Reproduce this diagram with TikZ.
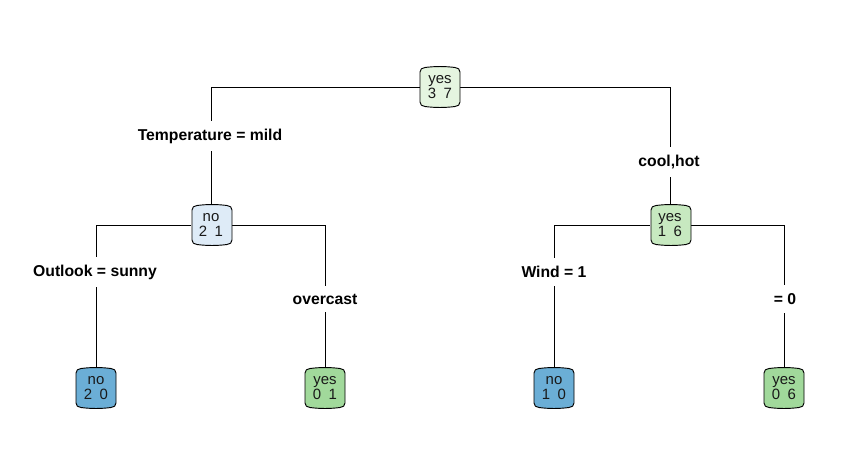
\documentclass[tikz,border=0pt]{standalone}
\usepackage{fontspec}
\setmainfont{Liberation Sans}
\usetikzlibrary{backgrounds}
\definecolor{cRoot}{HTML}{E5F5E0}
\definecolor{cNoA}{HTML}{DEEBF7}
\definecolor{cYesA}{HTML}{C7E9C0}
\definecolor{cNoLeaf}{HTML}{6BAED6}
\definecolor{cYesLeaf}{HTML}{A1D99B}
\newcommand\dgap{\hspace{0.5em}}
\tikzset{
  ntext/.style={align=center, inner sep=0pt, minimum width=30pt, minimum height=30pt,
    font=\fontsize{11.2}{10.8}\selectfont, text=black!90},
  nshape/.style={draw=black, line width=0.7pt},
  branch/.style={draw=black, line width=0.75pt},
  blabel/.style={fill=white, inner xsep=1pt, inner ysep=6pt, font=\fontsize{11.8}{13}\selectfont\bfseries}
}
\newcommand\treeshape[3]{%
  \draw[nshape, fill=#3, shift={(#1,#2)}]
    (-20,-15) -- (-20,15)
    .. controls (-20,18) and (-18,19) .. (-15,19.5)
    .. controls (-5,20.8) and (5,20.8) .. (15,19.5)
    .. controls (18,19) and (20,18) .. (20,15)
    -- (20,-15)
    .. controls (20,-18) and (18,-19) .. (15,-19.5)
    .. controls (5,-20.8) and (-5,-20.8) .. (-15,-19.5)
    .. controls (-18,-19) and (-20,-18) .. (-20,-15) -- cycle;%
}
\begin{document}
\begin{tikzpicture}[x=0.75pt, y=-0.75pt]
\useasboundingbox (0,0) rectangle (848,468);
% shapes
\treeshape{440}{87}{cRoot}
\treeshape{212}{225}{cNoA}
\treeshape{671}{225}{cYesA}
\treeshape{96}{388}{cNoLeaf}
\treeshape{325}{388}{cYesLeaf}
\treeshape{554}{388}{cNoLeaf}
\treeshape{784}{388}{cYesLeaf}
% nodes
\node[ntext] (root) at (440,87) {yes\\3\dgap 7};
\node[ntext] (nA) at (211,225) {no\\2\dgap 1};
\node[ntext] (yA) at (670,225) {yes\\1\dgap 6};
\node[ntext] (l1) at (96,388) {no\\2\dgap 0};
\node[ntext] (l2) at (325,388) {yes\\0\dgap 1};
\node[ntext] (l3) at (554,388) {no\\1\dgap 0};
\node[ntext] (l4) at (784,388) {yes\\0\dgap 6};
% connectors
\begin{pgfonlayer}{background}
\draw[branch] (root) -| (nA);
\draw[branch] (root) -| (yA);
\draw[branch] (nA) -| (l1);
\draw[branch] (nA) -| (l2);
\draw[branch] (yA) -| (l3);
\draw[branch] (yA) -| (l4);
\end{pgfonlayer}
% labels
\node[blabel] (t1) at (210,136) {Temperature = mild};
\node[blabel] (t2) at (669,162) {cool,hot};
\node[blabel] (t3) at (95,272) {Outlook = sunny};
\node[blabel] (t4) at (325,299) {overcast};
\node[blabel] (t5) at (554,272) {Wind = 1};
\node[blabel] (t6) at (785,299) {= 0};
\end{tikzpicture}
\end{document}
